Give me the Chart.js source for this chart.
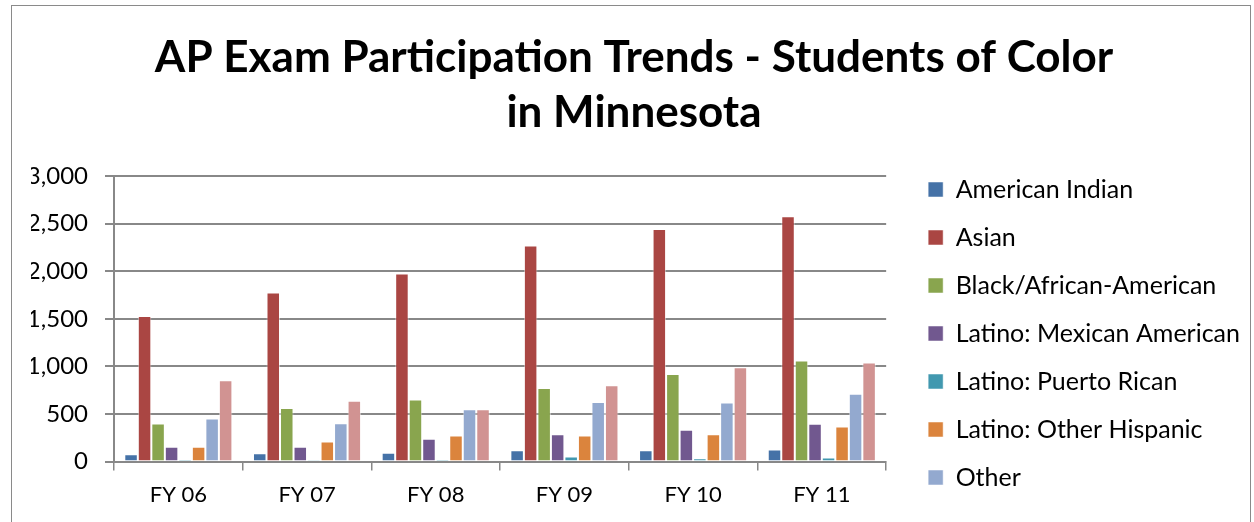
<!DOCTYPE html>
<html>
<head>
<meta charset="utf-8">
<script src="https://cdn.jsdelivr.net/npm/chart.js@4.4.1/dist/chart.umd.min.js"></script>
<style>
  html, body { margin: 0; padding: 0; background: #fff; overflow: hidden; }
  #wrap { position: relative; width: 1254px; height: 522px; }
  #frame {
    position: absolute; left: 11px; top: 5px; width: 1238px; height: 530px;
    border: 1px solid #8a8a8a; pointer-events: none;
  }
</style>
</head>
<body>
<div id="wrap">
  <canvas id="chart" width="1254" height="522"></canvas>
  <div id="frame"></div>
</div>
<script>
// ── Data ───────────────────────────────────────────────────
const years = ['FY 06', 'FY 07', 'FY 08', 'FY 09', 'FY 10', 'FY 11'];

const americanIndian   = [77, 88, 92, 119, 119, 127];
const asian            = [1530, 1775, 1976, 2271, 2444, 2577];
const blackAfrican     = [400, 562, 651, 773, 921, 1062];
const mexicanAmerican  = [155, 155, 239, 288, 334, 398];
const puertoRican      = [25, 20, 25, 53, 35, 42];
const otherHispanic    = [155, 211, 274, 274, 288, 369];
const other            = [453, 404, 549, 626, 622, 714];
const noResponse       = [854, 640, 549, 802, 992, 1041];

const yTicks = [0, 500, 1000, 1500, 2000, 2500, 3000];

const series = [
  ['American Indian', americanIndian, '#4572A7'],
  ['Asian', asian, '#AA4643'],
  ['Black/African-American', blackAfrican, '#89A54E'],
  ['Latino: Mexican American', mexicanAmerican, '#71588F'],
  ['Latino: Puerto Rican', puertoRican, '#4198AF'],
  ['Latino: Other Hispanic', otherHispanic, '#DB843D'],
  ['Other', other, '#93A9CF'],
  ['No Response', noResponse, '#D19392'],
];

// ── Chart ──────────────────────────────────────────────────
const FONT = 'Lato, "Open Sans", sans-serif';
const GRID = '#888888';

// legend sits lower/further right than Chart.js puts it, title a bit right
const LEGEND_DX = 19;
const LEGEND_DY = 154;
const TITLE_DX = 3;
const nudge = {
  id: 'nudge',
  afterLayout(chart) {
    const lg = chart.legend;
    lg.left += LEGEND_DX;
    lg.right += LEGEND_DX;
    lg.top += LEGEND_DY;
    lg.bottom += LEGEND_DY;
    const tb = chart.titleBlock;
    tb.left += TITLE_DX;
    tb.right += TITLE_DX;
  },
};

const datasets = series.map(([label, data, color]) => ({
  label,
  data,
  backgroundColor: color,
  borderColor: 'rgba(255,255,255,0.5)',
  borderWidth: 1,
  categoryPercentage: 0.84,
  barPercentage: 1.0,
}));

new Chart(document.getElementById('chart').getContext('2d'), {
  type: 'bar',
  data: { labels: years, datasets },
  plugins: [nudge],
  options: {
    responsive: false,
    animation: false,
    layout: { padding: { left: 31, right: 23, top: 0, bottom: 3 } },
    plugins: {
      title: {
        display: true,
        text: ['AP Exam Participation Trends - Students of Color', 'in Minnesota'],
        color: '#000',
        font: { family: FONT, size: 44, weight: 'bold', lineHeight: 1.25 },
        padding: { top: 30, bottom: 36 },
      },
      legend: {
        position: 'right',
        align: 'start',
        maxWidth: 400,
        labels: {
          color: '#000',
          font: { family: FONT, size: 25 },
          boxWidth: 15,
          boxHeight: 15,
          padding: 23,
          filter: item => item.datasetIndex < 7,
        },
      },
      tooltip: { enabled: false },
    },
    scales: {
      x: {
        grid: {
          offset: true,
          drawOnChartArea: false,
          drawTicks: true,
          tickLength: 9,
          color: GRID,
          lineWidth: 1.5,
        },
        border: { color: GRID, width: 2 },
        ticks: { color: '#000', font: { family: FONT, size: 22 }, padding: 11 },
      },
      y: {
        min: 0,
        max: 3000,
        afterBuildTicks: axis => { axis.ticks = yTicks.map(v => ({ value: v })); },
        afterFit: axis => { axis.width = 83; },
        grid: { color: GRID, lineWidth: 2, tickLength: 9 },
        border: { color: GRID, width: 2 },
        ticks: {
          color: '#000',
          font: { family: FONT, size: 24 },
          padding: 17,
          callback: v => v.toLocaleString('en-US'),
        },
      },
    },
  },
});
</script>
</body>
</html>
